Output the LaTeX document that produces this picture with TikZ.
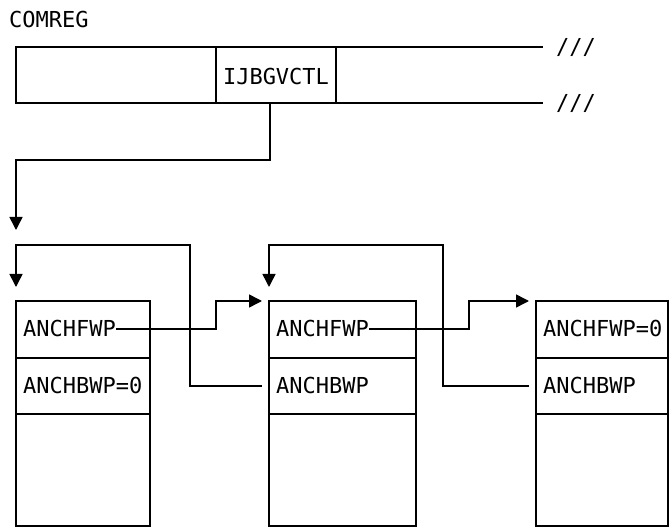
\documentclass[tikz,border=0pt]{standalone}
\usepackage{fontspec}
\setmonofont{DejaVu Sans Mono}
\usetikzlibrary{arrows.meta}
\begin{document}
\begin{tikzpicture}[x=1pt,y=-1pt,
  lw/.style={line width=1.5pt},
  txt/.style={font=\ttfamily\fontsize{22pt}{26pt}\selectfont, text height=16pt, text depth=0pt},
  cell/.style={draw, lw, anchor=north west, inner sep=0pt, outer sep=0pt},
  lbl/.style={txt, inner sep=0pt, anchor=west},
  arr/.style={lw, -{Triangle[width=13pt,length=13pt]}}
]
\useasboundingbox (0,0) rectangle (670,529);

% COMREG area
\node[txt, inner sep=0pt, anchor=west] (cm) at (9,20) {COMREG};
\node[cell, minimum width=200pt, minimum height=56pt] (c1) at (16,47) {};
\node[cell, minimum width=120pt, minimum height=56pt] (c2) at (216,47) {};
\node[txt, inner sep=0pt] (c2t) at ([yshift=-2pt]c2.center) {IJBGVCTL};
\coordinate (e1) at (543,47);
\coordinate (e2) at (543,103);
\draw[lw] (c2.north east) -- (e1);
\draw[lw] (c2.south east) -- (e2);
\node[txt, inner sep=0pt] (s1) at (576,47) {///};
\node[txt, inner sep=0pt] (s2) at (576,103) {///};

% Box 1
\node[cell, minimum width=134pt, minimum height=57pt] (b1f) at (16,301) {};
\node[cell, minimum width=134pt, minimum height=56pt] (b1b) at (16,358) {};
\node[cell, minimum width=134pt, minimum height=112pt] (b1e) at (16,414) {};
\node[lbl] (l1f) at ([xshift=7pt,yshift=0.5pt]b1f.west) {ANCHFWP};
\node[lbl] (l1b) at ([xshift=7pt]b1b.west) {ANCHBWP=0};

% Box 2
\node[cell, minimum width=147pt, minimum height=57pt] (b2f) at (269,301) {};
\node[cell, minimum width=147pt, minimum height=56pt] (b2b) at (269,358) {};
\node[cell, minimum width=147pt, minimum height=112pt] (b2e) at (269,414) {};
\node[lbl] (l2f) at ([xshift=7pt,yshift=0.5pt]b2f.west) {ANCHFWP};
\node[lbl] (l2b) at ([xshift=7pt]b2b.west) {ANCHBWP};

% Box 3
\node[cell, minimum width=132pt, minimum height=57pt] (b3f) at (536,301) {};
\node[cell, minimum width=132pt, minimum height=56pt] (b3b) at (536,358) {};
\node[cell, minimum width=132pt, minimum height=112pt] (b3e) at (536,414) {};
\node[lbl] (l3f) at ([xshift=7pt,yshift=0.5pt]b3f.west) {ANCHFWP=0};
\node[lbl] (l3b) at ([xshift=7pt]b3b.west) {ANCHBWP};

% COMREG pointer
\coordinate (k0) at (16,160);
\coordinate (a0) at (16,230);
\draw[arr] ([xshift=54pt]c2.south west) |- (k0) -- (a0);

% backward loops
\coordinate (k1) at (190,245);
\coordinate (a1) at (16,287);
\draw[arr] ([xshift=-7pt]b2b.west) -| (k1) -| (a1);
\coordinate (k2) at (443,245);
\coordinate (a2) at (269,287);
\draw[arr] ([xshift=-7pt]b3b.west) -| (k2) -| (a2);

% forward pointers
\coordinate (m1) at (216,301);
\draw[arr] (l1f.east) -| (m1) -- ([xshift=-7pt]b2f.north west);
\coordinate (m2) at (469,301);
\draw[arr] (l2f.east) -| (m2) -- ([xshift=-7pt]b3f.north west);
\end{tikzpicture}
\end{document}
